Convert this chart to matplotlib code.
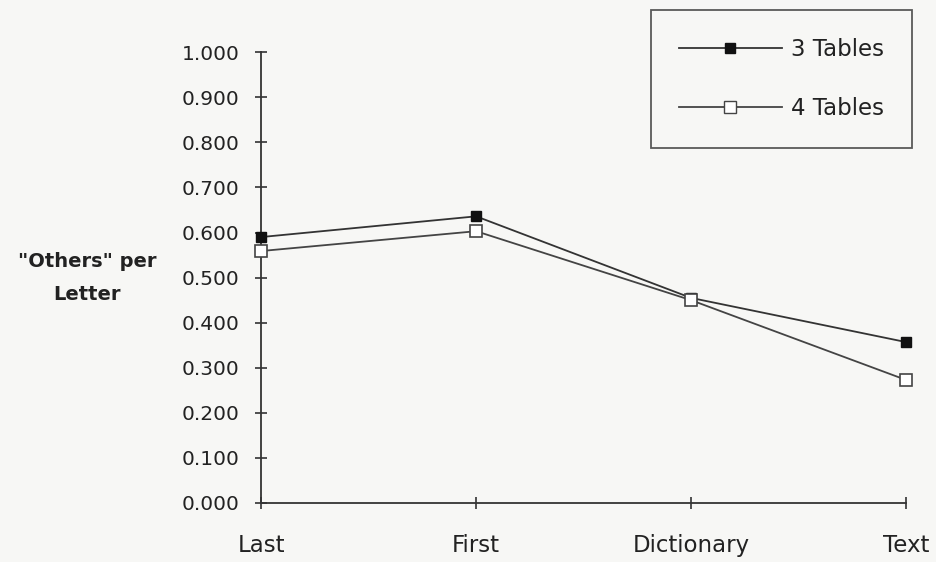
import matplotlib.pyplot as plt
from matplotlib.lines import Line2D

categories = ["Last", "First", "Dictionary", "Text"]
three_tables = [0.590, 0.636, 0.455, 0.357]
four_tables = [0.559, 0.603, 0.450, 0.273]
y_ticks = [i / 10 for i in range(11)]

plt.rcParams['font.family'] = ['DejaVu Sans']
bg = '#f7f7f5'

fig = plt.figure(figsize=(9.36, 5.62), dpi=100, facecolor=bg)
ax = fig.add_axes([0.279, 0.105, 0.689, 0.802])
ax.set_facecolor(bg)

x = range(len(categories))
ax.plot(x, three_tables, color='#333333', lw=1.3, marker='s', ms=7,
        mfc='#111111', mec='#111111', label='3 Tables', clip_on=False, zorder=3)
ax.plot(x, four_tables, color='#444444', lw=1.3, marker='s', ms=8.5,
        mfc='white', mec='#444444', mew=1.2, label='4 Tables', clip_on=False, zorder=3)

ax.set_xlim(0, len(categories) - 1)
ax.set_ylim(0, 1.0)
ax.set_xticks(list(x))
ax.set_xticklabels(categories, fontsize=16.5)
ax.set_yticks(y_ticks)
ax.set_yticklabels([f"{v:.3f}" for v in y_ticks], fontsize=14.5)

for side in ('top', 'right'):
    ax.spines[side].set_visible(False)
for side in ('left', 'bottom'):
    ax.spines[side].set_color('#333333')
    ax.spines[side].set_linewidth(1.3)
ax.tick_params(direction='inout', length=9, width=1.2, color='#333333',
               labelcolor='#222222')
ax.tick_params(axis='x', pad=18)
ax.tick_params(axis='y', pad=11)

fig.text(0.093, 0.505, '"Others" per\nLetter', ha='center', va='center',
         fontsize=14, fontweight='bold', color='#222222', linespacing=1.9)

handles = [
    Line2D([], [], color='#333333', lw=1.3, marker='s', ms=7, mfc='#111111', mec='#111111'),
    Line2D([], [], color='#444444', lw=1.3, marker='s', ms=8.5, mfc='white', mec='#444444'),
]
leg = fig.legend(handles, ['3 Tables', '4 Tables'], loc='upper right',
                 bbox_to_anchor=(0.974, 0.982), frameon=True, fancybox=False,
                 edgecolor='#333333', facecolor=bg, fontsize=16.5,
                 handlelength=4.5, labelspacing=1.6, borderpad=1.2,
                 handletextpad=0.4, borderaxespad=0)
leg.get_frame().set_linewidth(1.3)
for t in leg.get_texts():
    t.set_color('#222222')

fig.savefig('out.png', dpi=100, facecolor=fig.get_facecolor())
